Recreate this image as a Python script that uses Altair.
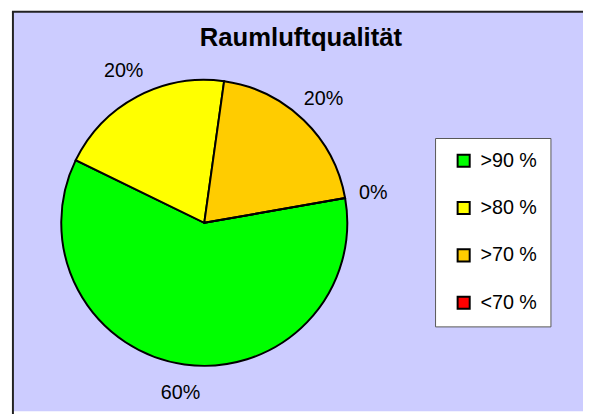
import altair as alt
import pandas as pd

categories = [">90 %", ">80 %", ">70 %", "<70 %"]
shares = [60, 20, 20, 0]
label_texts = ["60%", "20%", "20%", "0%"]
colors = ["#00FF00", "#FFFF00", "#FFCC00", "#FF0000"]
title_text = "Raumluftqualität"

df = pd.DataFrame({
    "category": categories,
    "share": shares,
    "label": label_texts,
    "idx": list(range(len(categories))),
})

start = 1.396  # first slice angle (~80 deg)
theta_scale = alt.Scale(range=[start, start + 6.2832])
FONT = "Liberation Sans"
cx, cy = 194, 214
W, H = 578, 405

base = alt.Chart(df)

pie = base.mark_arc(radius=145, stroke="black", strokeWidth=2).encode(
    theta=alt.Theta("share:Q", stack=True, scale=theta_scale),
    color=alt.Color(
        "category:N",
        sort=categories,
        scale=alt.Scale(domain=categories, range=colors),
        legend=alt.Legend(
            title=None,
            orient="none",
            legendX=428,
            legendY=128,
            fillColor="white",
            strokeColor="#555555",
            padding=13,
            symbolOffset=6,
            symbolType="square",
            symbolSize=150,
            symbolStrokeColor="black",
            symbolStrokeWidth=2,
            labelFont=FONT,
            labelFontSize=20,
            labelColor="black",
            labelOffset=7,
            rowPadding=26,
        ),
    ),
    order=alt.Order("idx:Q", sort="ascending"),
    x=alt.value(cx),
    y=alt.value(cy),
)

labels = base.mark_text(radius=174, fontSize=20, font=FONT, color="black",
                        align="center", baseline="middle").encode(
    theta=alt.Theta("share:Q", stack=True, scale=theta_scale),
    detail="category:N",
    order=alt.Order("idx:Q", sort="ascending"),
    text="label:N",
    x=alt.value(cx),
    y=alt.value(cy),
)

title = alt.Chart(pd.DataFrame({"t": [title_text]})).mark_text(
    fontSize=26, fontWeight="bold", font=FONT, color="black",
    align="center", baseline="alphabetic"
).encode(text="t:N", x=alt.value(292), y=alt.value(35))

frame_df = pd.DataFrame({"k": [0]})
left_border = alt.Chart(frame_df).mark_rule(color="#222222", strokeWidth=2).encode(
    x=alt.value(0), y=alt.value(0), y2=alt.value(H + 5)
)
top_border = alt.Chart(frame_df).mark_rule(color="#222222", strokeWidth=2).encode(
    x=alt.value(-1), x2=alt.value(W + 5), y=alt.value(0)
)

chart = alt.layer(pie, labels, title, left_border, top_border).properties(
    width=W,
    height=H,
    padding={"left": 5, "top": 1, "right": 0, "bottom": 0},
    autosize=alt.AutoSizeParams(type="none"),
    background="white",
).configure_view(fill="#CCCCFF", stroke=None)

chart.save("out.html", embed_options={"renderer": "svg", "actions": False})
